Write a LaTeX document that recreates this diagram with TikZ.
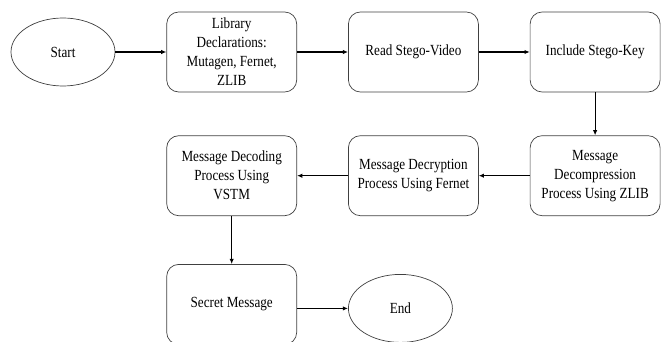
\documentclass[tikz,border=0pt]{standalone}
\usepackage{fontspec}
\setmainfont[FakeStretch=0.85]{Liberation Serif}
\usepackage{tikz}
\usetikzlibrary{positioning,arrows.meta,shapes.geometric}

\begin{document}
\begin{tikzpicture}[
    node distance=1.075cm and 1.275cm,
    font=\fontsize{11}{13.5}\selectfont,
    block/.style={draw=black!75, line width=0.5pt, rounded corners=0.3cm, minimum width=3.25cm, minimum height=2cm, align=center, inner sep=2pt},
    term/.style={draw=black!75, line width=0.5pt, ellipse, minimum width=2.6cm, minimum height=1.7cm},
    arrow/.style={-{Latex[length=1.3mm,width=1.1mm]}, line width=0.75pt}
]
\useasboundingbox (0,0) rectangle (16.575,-8.55);
\node[term] (start) at (1.575,-1.3) {Start};
\node[block, right=of start] (libs) {Library\\Declarations:\\Mutagen, Fernet,\\ZLIB};
\node[block, right=of libs] (readvid) {Read Stego-Video};
\node[block, right=of readvid] (stegokey) {Include Stego-Key};
\node[block, below=of stegokey] (decomp) {Message\\Decompression\\Process Using ZLIB};
\node[block, left=of decomp] (decrypt) {Message Decryption\\Process Using Fernet};
\node[block, left=of decrypt] (decode) {Message Decoding\\Process Using\\VSTM};
\node[block, below=1.2cm of decode] (secret) {Secret Message};
\node[term, right=of secret, yshift=-0.1cm] (finish) {End};
\draw[arrow] (start) -- (libs);
\draw[arrow] (libs) -- (readvid);
\draw[arrow] (readvid) -- (stegokey);
\draw[arrow] (stegokey) -- (decomp);
\draw[arrow] (decomp) -- (decrypt);
\draw[arrow] (decrypt) -- (decode);
\draw[arrow] (decode) -- (secret);
\draw[arrow] (secret.east |- finish) -- (finish);
\end{tikzpicture}
\end{document}
